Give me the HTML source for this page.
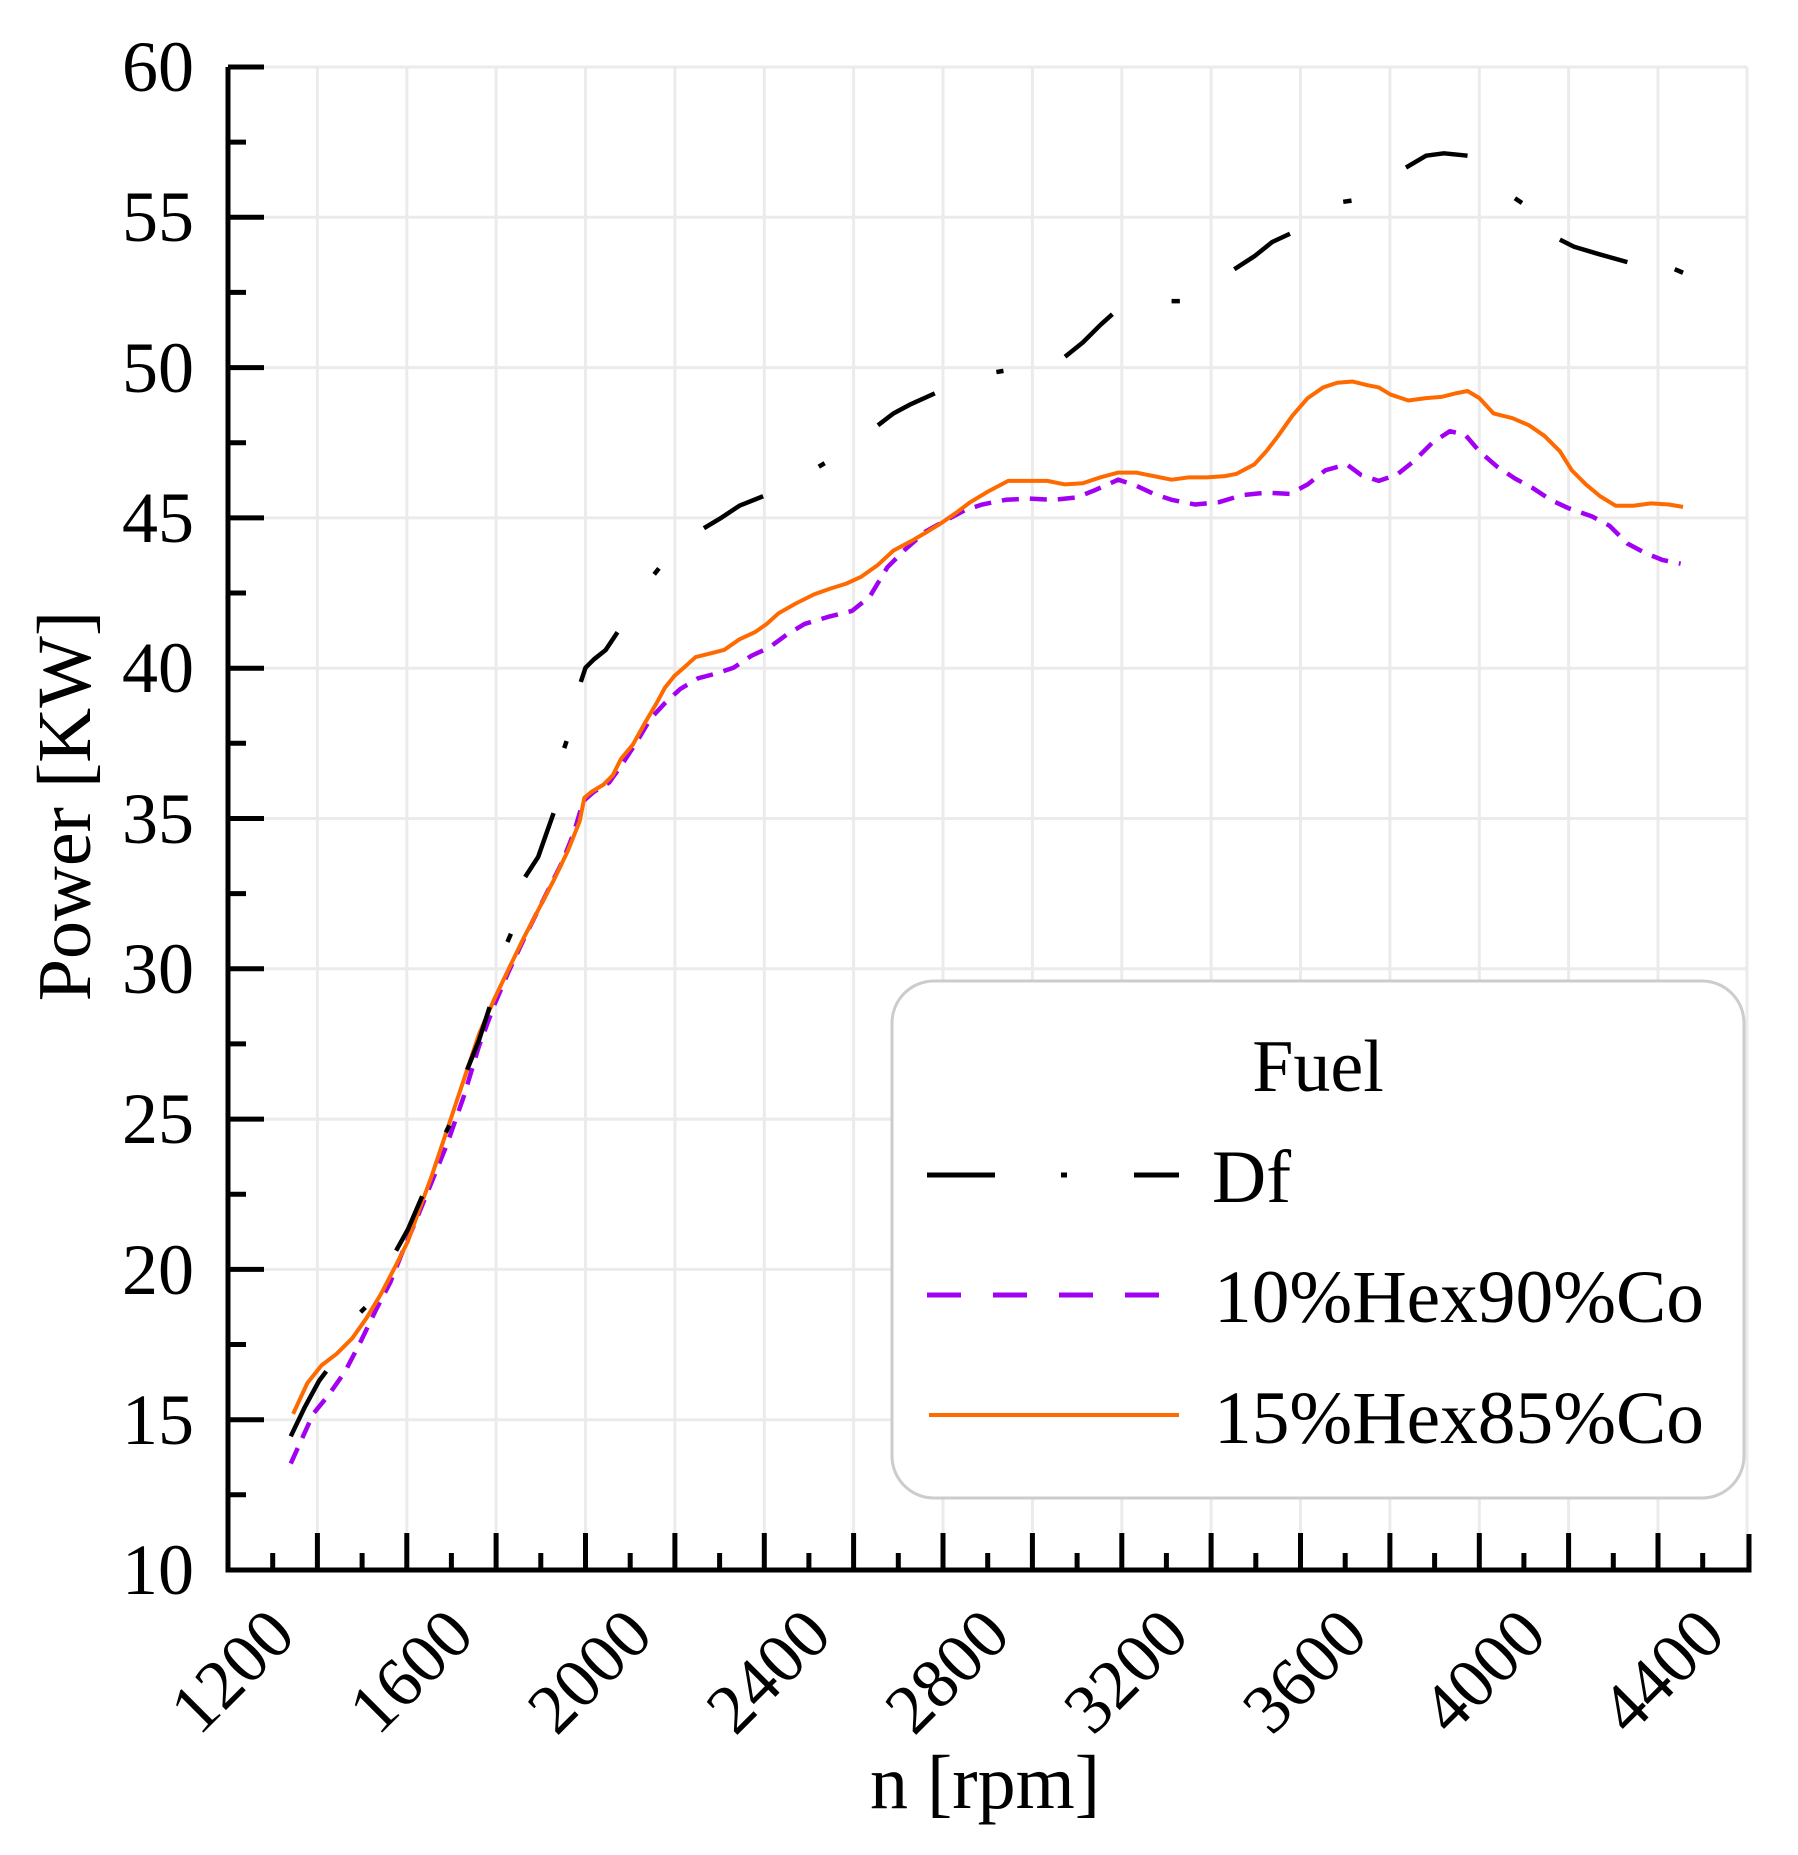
<!DOCTYPE html>
<html><head><meta charset="utf-8"><style>
html,body{margin:0;padding:0;background:#fff;}
svg{display:block;}
text{font-family:"Liberation Serif",serif;fill:#000;}
</style></head><body>
<svg width="1798" height="1855" viewBox="0 0 1798 1855" xmlns="http://www.w3.org/2000/svg">
<g stroke="#ebebeb" stroke-width="3">
<line x1="317.4" y1="67" x2="317.4" y2="1570"/><line x1="406.8" y1="67" x2="406.8" y2="1570"/><line x1="496.1" y1="67" x2="496.1" y2="1570"/><line x1="585.5" y1="67" x2="585.5" y2="1570"/><line x1="674.9" y1="67" x2="674.9" y2="1570"/><line x1="764.3" y1="67" x2="764.3" y2="1570"/><line x1="853.6" y1="67" x2="853.6" y2="1570"/><line x1="943" y1="67" x2="943" y2="1570"/><line x1="1032.4" y1="67" x2="1032.4" y2="1570"/><line x1="1121.8" y1="67" x2="1121.8" y2="1570"/><line x1="1211.1" y1="67" x2="1211.1" y2="1570"/><line x1="1300.5" y1="67" x2="1300.5" y2="1570"/><line x1="1389.9" y1="67" x2="1389.9" y2="1570"/><line x1="1479.3" y1="67" x2="1479.3" y2="1570"/><line x1="1568.6" y1="67" x2="1568.6" y2="1570"/><line x1="1658" y1="67" x2="1658" y2="1570"/><line x1="1747" y1="67" x2="1747" y2="1570"/>
<line x1="228" y1="67" x2="1747" y2="67"/><line x1="228" y1="217.3" x2="1747" y2="217.3"/><line x1="228" y1="367.6" x2="1747" y2="367.6"/><line x1="228" y1="517.9" x2="1747" y2="517.9"/><line x1="228" y1="668.2" x2="1747" y2="668.2"/><line x1="228" y1="818.5" x2="1747" y2="818.5"/><line x1="228" y1="968.8" x2="1747" y2="968.8"/><line x1="228" y1="1119.1" x2="1747" y2="1119.1"/><line x1="228" y1="1269.4" x2="1747" y2="1269.4"/><line x1="228" y1="1419.7" x2="1747" y2="1419.7"/>
</g>
<g transform="translate(228,67) scale(1.1839,1.1825) translate(-193,-57)" fill="none" stroke-linejoin="round">
<polyline stroke="#a100f2" stroke-width="4.5" vector-effect="non-scaling-stroke" stroke-dasharray="17 11" points="246,1238 255,1218 265,1196 278,1180 292,1160 305,1135 318,1108 330,1085 340,1060 352,1032 365,1000 378,968 392,928 405,885 418,850 430,822 445,790 460,760 475,730 485,705 493,678 502,670 515,662 525,648 538,628 550,608 562,595 575,583 590,574 605,570 620,565 635,555 650,548 665,537 680,528 700,522 720,517 735,505 750,480 765,465 782,450 800,440 815,432 830,427 850,423 870,422 890,423 910,421 925,415 945,406 960,411 975,418 990,423 1010,427 1030,425 1050,419 1070,417 1090,418 1105,410 1120,398 1138,393 1150,402 1165,407 1180,402 1195,390 1210,375 1225,365 1238,368 1250,382 1265,395 1280,405 1295,413 1310,423 1325,430 1345,437 1360,445 1375,460 1390,468 1405,474 1420,477"/>
<polyline stroke="#ff6a00" stroke-width="4" vector-effect="non-scaling-stroke" points="248,1196 260,1170 272,1155 285,1145 298,1132 310,1115 322,1095 335,1070 345,1050 355,1022 365,995 375,965 385,935 395,905 405,875 418,845 430,820 442,795 455,770 468,745 480,720 490,695 494,675 500,670 510,664 518,656 525,642 535,630 545,612 555,595 562,582 570,572 578,565 588,556 600,553 612,550 625,541 638,535 648,528 658,519 672,511 688,503 702,498 715,494 728,488 742,478 755,466 770,458 782,451 795,443 808,434 820,425 835,416 852,407 870,407 885,407 900,410 915,409 930,404 945,400 960,400 975,403 990,406 1005,404 1020,404 1035,403 1045,401 1060,393 1070,382 1080,369 1092,352 1105,337 1118,328 1130,324 1143,323 1155,326 1165,328 1175,334 1190,339 1205,337 1218,336 1230,333 1240,331 1250,337 1262,350 1278,354 1292,360 1305,369 1318,382 1328,398 1340,410 1352,420 1365,428 1380,428 1395,426 1410,427 1422,429"/>
<g stroke="#000" stroke-width="4.5">
<polyline vector-effect="non-scaling-stroke" points="246,1215 258,1190 270,1168 276,1160"/>
<polyline vector-effect="non-scaling-stroke" points="305,1110 309,1106"/>
<polyline vector-effect="non-scaling-stroke" points="335,1058 345,1040 357,1012"/>
<polyline vector-effect="non-scaling-stroke" points="377,958 380,952"/>
<polyline vector-effect="non-scaling-stroke" points="395,905 405,880 414,852"/>
<polyline vector-effect="non-scaling-stroke" points="429,797 432,790"/>
<polyline vector-effect="non-scaling-stroke" points="444,742 455,725 462,705 468,688"/>
<polyline vector-effect="non-scaling-stroke" points="477,633 479,627"/>
<polyline vector-effect="non-scaling-stroke" points="491,577 495,565 502,558 512,550 522,535"/>
<polyline vector-effect="non-scaling-stroke" points="553,486 557,481"/>
<polyline vector-effect="non-scaling-stroke" points="595,447 610,438 625,428 645,420"/>
<polyline vector-effect="non-scaling-stroke" points="692,395 697,392"/>
<polyline vector-effect="non-scaling-stroke" points="742,360 755,350 770,342 790,333"/>
<polyline vector-effect="non-scaling-stroke" points="842,315 848,314"/>
<polyline vector-effect="non-scaling-stroke" points="900,302 915,290 930,275 940,266"/>
<polyline vector-effect="non-scaling-stroke" points="990,255 997,255"/>
<polyline vector-effect="non-scaling-stroke" points="1043,228 1060,217 1075,205 1090,198"/>
<polyline vector-effect="non-scaling-stroke" points="1135,171 1142,170"/>
<polyline vector-effect="non-scaling-stroke" points="1188,142 1205,132 1220,130 1240,132"/>
<polyline vector-effect="non-scaling-stroke" points="1280,168 1286,172"/>
<polyline vector-effect="non-scaling-stroke" points="1318,203 1330,209 1350,215 1375,222"/>
<polyline vector-effect="non-scaling-stroke" points="1415,228 1422,231"/>
</g>
</g>
<g stroke="#000" stroke-width="5" fill="none">
<polyline points="228,67 228,1570 1749,1570 1749,1534"/>
</g>
<g stroke="#000" stroke-width="5">
<line x1="228" y1="67" x2="264" y2="67"/><line x1="228" y1="217.3" x2="264" y2="217.3"/><line x1="228" y1="367.6" x2="264" y2="367.6"/><line x1="228" y1="517.9" x2="264" y2="517.9"/><line x1="228" y1="668.2" x2="264" y2="668.2"/><line x1="228" y1="818.5" x2="264" y2="818.5"/><line x1="228" y1="968.8" x2="264" y2="968.8"/><line x1="228" y1="1119.1" x2="264" y2="1119.1"/><line x1="228" y1="1269.4" x2="264" y2="1269.4"/><line x1="228" y1="1419.7" x2="264" y2="1419.7"/>
<line x1="228" y1="142.1" x2="246" y2="142.1"/><line x1="228" y1="292.4" x2="246" y2="292.4"/><line x1="228" y1="442.7" x2="246" y2="442.7"/><line x1="228" y1="593" x2="246" y2="593"/><line x1="228" y1="743.3" x2="246" y2="743.3"/><line x1="228" y1="893.6" x2="246" y2="893.6"/><line x1="228" y1="1043.9" x2="246" y2="1043.9"/><line x1="228" y1="1194.2" x2="246" y2="1194.2"/><line x1="228" y1="1344.5" x2="246" y2="1344.5"/><line x1="228" y1="1494.8" x2="246" y2="1494.8"/>
<line x1="317.4" y1="1570" x2="317.4" y2="1533"/><line x1="406.8" y1="1570" x2="406.8" y2="1533"/><line x1="496.1" y1="1570" x2="496.1" y2="1533"/><line x1="585.5" y1="1570" x2="585.5" y2="1533"/><line x1="674.9" y1="1570" x2="674.9" y2="1533"/><line x1="764.3" y1="1570" x2="764.3" y2="1533"/><line x1="853.6" y1="1570" x2="853.6" y2="1533"/><line x1="943" y1="1570" x2="943" y2="1533"/><line x1="1032.4" y1="1570" x2="1032.4" y2="1533"/><line x1="1121.8" y1="1570" x2="1121.8" y2="1533"/><line x1="1211.1" y1="1570" x2="1211.1" y2="1533"/><line x1="1300.5" y1="1570" x2="1300.5" y2="1533"/><line x1="1389.9" y1="1570" x2="1389.9" y2="1533"/><line x1="1479.3" y1="1570" x2="1479.3" y2="1533"/><line x1="1568.6" y1="1570" x2="1568.6" y2="1533"/><line x1="1658" y1="1570" x2="1658" y2="1533"/>
<line x1="272.7" y1="1570" x2="272.7" y2="1553"/><line x1="362.1" y1="1570" x2="362.1" y2="1553"/><line x1="451.4" y1="1570" x2="451.4" y2="1553"/><line x1="540.8" y1="1570" x2="540.8" y2="1553"/><line x1="630.2" y1="1570" x2="630.2" y2="1553"/><line x1="719.6" y1="1570" x2="719.6" y2="1553"/><line x1="808.9" y1="1570" x2="808.9" y2="1553"/><line x1="898.3" y1="1570" x2="898.3" y2="1553"/><line x1="987.7" y1="1570" x2="987.7" y2="1553"/><line x1="1077.1" y1="1570" x2="1077.1" y2="1553"/><line x1="1166.4" y1="1570" x2="1166.4" y2="1553"/><line x1="1255.8" y1="1570" x2="1255.8" y2="1553"/><line x1="1345.2" y1="1570" x2="1345.2" y2="1553"/><line x1="1434.6" y1="1570" x2="1434.6" y2="1553"/><line x1="1523.9" y1="1570" x2="1523.9" y2="1553"/><line x1="1613.3" y1="1570" x2="1613.3" y2="1553"/><line x1="1702.7" y1="1570" x2="1702.7" y2="1553"/>
</g>
<g font-size="72" text-anchor="end">
<text x="194" y="91">60</text><text x="194" y="241">55</text><text x="194" y="392">50</text><text x="194" y="542">45</text><text x="194" y="692">40</text><text x="194" y="843">35</text><text x="194" y="993">30</text><text x="194" y="1143">25</text><text x="194" y="1294">20</text><text x="194" y="1444">15</text><text x="194" y="1594">10</text>
</g>
<g font-size="70" text-anchor="end">
<text transform="translate(298,1638) rotate(-45)">1200</text>
<text transform="translate(476.7,1638) rotate(-45)">1600</text>
<text transform="translate(655.5,1638) rotate(-45)">2000</text>
<text transform="translate(834.3,1638) rotate(-45)">2400</text>
<text transform="translate(1013,1638) rotate(-45)">2800</text>
<text transform="translate(1191.8,1638) rotate(-45)">3200</text>
<text transform="translate(1370.5,1638) rotate(-45)">3600</text>
<text transform="translate(1549.3,1638) rotate(-45)">4000</text>
<text transform="translate(1728,1638) rotate(-45)">4400</text>
</g>
<text x="985" y="1808" font-size="76" text-anchor="middle">n [rpm]</text>
<text transform="translate(90,806) rotate(-90)" font-size="76" text-anchor="middle">Power [KW]</text>
<rect x="892" y="981" width="852" height="517" rx="42" ry="42" fill="#fff" stroke="#cccccc" stroke-width="3"/>
<text x="1318" y="1091" font-size="74" text-anchor="middle">Fuel</text>
<line x1="927" y1="1175" x2="995" y2="1175" stroke="#000" stroke-width="5"/>
<line x1="1061" y1="1175" x2="1067" y2="1175" stroke="#000" stroke-width="5"/>
<line x1="1134" y1="1175" x2="1179" y2="1175" stroke="#000" stroke-width="5"/>
<line x1="927" y1="1295" x2="1160" y2="1295" stroke="#a100f2" stroke-width="5" stroke-dasharray="34 32"/>
<line x1="929" y1="1415" x2="1179" y2="1415" stroke="#ff6a00" stroke-width="4"/>
<g font-size="75">
<text x="1212" y="1202">Df</text>
<text x="1214" y="1322" textLength="490" lengthAdjust="spacingAndGlyphs">10%Hex90%Co</text>
<text x="1214" y="1443" textLength="490" lengthAdjust="spacingAndGlyphs">15%Hex85%Co</text>
</g>
</svg>
</body></html>
